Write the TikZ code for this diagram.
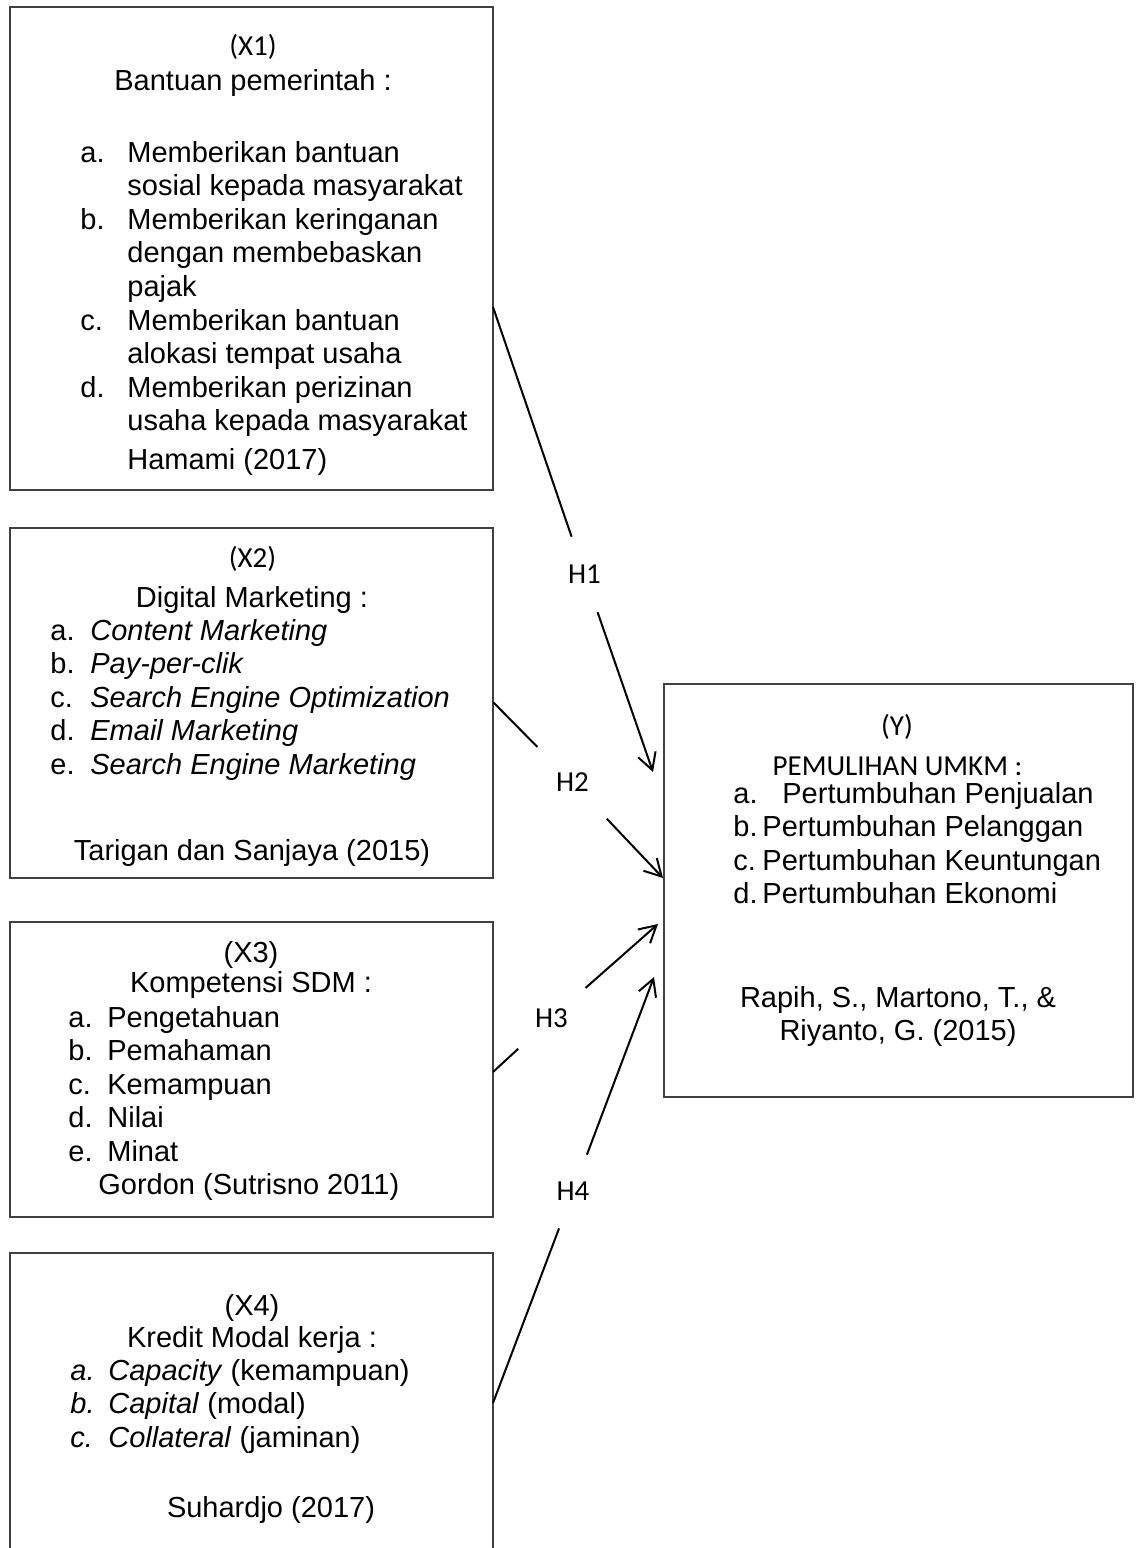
\documentclass[tikz,border=0pt]{standalone}
\usepackage{fontspec}
\setmainfont{Liberation Sans}
\newfontfamily\calibrifont{Carlito}
\usetikzlibrary{arrows.meta}

\newcommand{\bodyfont}{\fontsize{14.5}{16.8}\selectfont}

\tikzset{
    box/.style={draw=black!75, line width=0.65pt, inner sep=0pt},
    txt/.style={inner sep=0pt},
    idtxt/.style={txt, font=\calibrifont\bodyfont},
    hyp/.style={circle, inner sep=0pt, font=\calibrifont\bodyfont},
    conn/.style={line width=1pt},
    arr/.style={conn, -{Straight Barb[length=8.3pt, width=9.2pt]}}
}

\begin{document}
\begin{tikzpicture}[x=0.5pt, y=-0.5pt, font=\bodyfont]
\useasboundingbox (0,0) rectangle (1141,1548);

% Boxes
\node[box, minimum width=241.5pt, minimum height=241.5pt] (x1) at (251.5,248.5) {};
\node[box, minimum width=241.5pt, minimum height=175pt] (x2) at (251.5,703) {};
\node[box, minimum width=241.5pt, minimum height=147.5pt] (x3) at (251.5,1069.5) {};
\node[box, minimum width=241.5pt, minimum height=151.5pt] (x4) at (251.5,1404.5) {};
\node[box, minimum width=234.5pt, minimum height=206.5pt] (y) at (898.5,890.5) {};

% X1
\node[idtxt, anchor=base] (x1id) at (253,55) {(X1)};
\node[txt, anchor=base] (x1title) at (253,90) {Bantuan pemerintah :};
\node[txt, anchor=base west] (x1list) at (80,162) {\begin{tabular}[t]{@{}p{23.5pt}@{}l@{}}
a. & Memberikan bantuan\\
   & sosial kepada masyarakat\\
b. & Memberikan keringanan\\
   & dengan membebaskan\\
   & pajak\\
c. & Memberikan bantuan\\
   & alokasi tempat usaha\\
d. & Memberikan perizinan\\
   & usaha kepada masyarakat
\end{tabular}};
\node[txt, anchor=base west] (x1src) at (127,469) {Hamami (2017)};

% X2
\node[idtxt, anchor=base] (x2id) at (252.5,567) {(X2)};
\node[txt, anchor=base] (x2title) at (252,607) {Digital Marketing :};
\node[txt, anchor=base west] (x2list) at (50,640) {\begin{tabular}[t]{@{}p{20pt}@{}l@{}}
a. & \textit{Content Marketing}\\
b. & \textit{Pay-per-clik}\\
c. & \textit{Search Engine Optimization}\\
d. & \textit{Email Marketing}\\
e. & \textit{Search Engine Marketing}
\end{tabular}};
\node[txt, anchor=base] (x2src) at (252,860) {Tarigan dan Sanjaya (2015)};

% X3
\node[txt, anchor=base] (x3id) at (251,962) {(X3)};
\node[txt, anchor=base] (x3title) at (251,992) {Kompetensi SDM :};
\node[txt, anchor=base west] (x3list) at (68,1027) {\begin{tabular}[t]{@{}p{19.5pt}@{}l@{}}
a. & Pengetahuan\\
b. & Pemahaman\\
c. & Kemampuan\\
d. & Nilai\\
e. & Minat
\end{tabular}};
\node[txt, anchor=base west] (x3src) at (98,1194) {Gordon (Sutrisno 2011)};

% X4
\node[txt, anchor=base] (x4id) at (252,1315) {(X4)};
\node[txt, anchor=base] (x4title) at (252,1347) {Kredit Modal kerja :};
\node[txt, anchor=base west] (x4list) at (70,1380) {\begin{tabular}[t]{@{}p{19pt}@{}l@{}}
\textit{a.} & \textit{Capacity} (kemampuan)\\
\textit{b.} & \textit{Capital} (modal)\\
\textit{c.} & \textit{Collateral} (jaminan)
\end{tabular}};
\node[txt, anchor=base] (x4src) at (271,1517) {Suhardjo (2017)};

% Y
\node[idtxt, anchor=base] (yid) at (897,735) {(Y)};
\node[idtxt, anchor=base] (ytitle) at (897.5,775) {PEMULIHAN UMKM :};
\node[txt, anchor=base west] (ylist) at (733,803) {\begin{tabular}[t]{@{}p{14.5pt}@{}l@{}}
a. & \hspace{10pt}Pertumbuhan Penjualan\\
b. & Pertumbuhan Pelanggan\\
c. & Pertumbuhan Keuntungan\\
d. & Pertumbuhan Ekonomi
\end{tabular}};
\node[txt, anchor=base] (ysrc) at (898,1007) {\begin{tabular}[t]{@{}c@{}}
Rapih, S., Martono, T., \&\\
Riyanto, G. (2015)
\end{tabular}};

% Hypotheses
\node[hyp, minimum size=39.5pt] (h1) at (584.5,574.5) {H1};
\node[hyp, minimum size=49.5pt] (h2) at (572.5,782.5) {H2};
\node[hyp, minimum size=45pt] (h3) at (551.5,1018) {H3};
\node[hyp, minimum size=39pt] (h4) at (573,1191.5) {H4};

% Connector ends
\coordinate (s1) at (493,307);
\coordinate (s2) at (493,702);
\coordinate (s3) at (493,1072);
\coordinate (s4) at (493,1403);
\coordinate (t1) at (653,772);
\coordinate (t2) at (663,878);
\coordinate (t3) at (658,924);
\coordinate (t4) at (654,977);

% Arrows
\draw[conn] (s1) -- (h1);
\draw[arr] (h1) -- (t1);
\draw[conn] (s2) -- (h2);
\draw[arr] (h2) -- (t2);
\draw[conn] (s3) -- (h3);
\draw[arr] (h3) -- (t3);
\draw[conn] (s4) -- (h4);
\draw[arr] (h4) -- (t4);

\end{tikzpicture}
\end{document}
